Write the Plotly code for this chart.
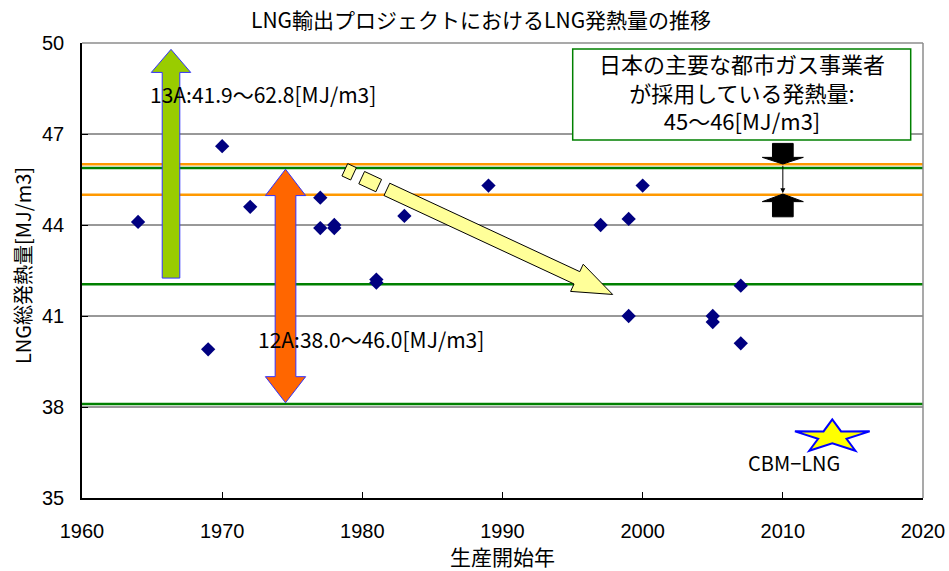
import math
import plotly.graph_objects as go

# ---------------- data ----------------
start_year = [1964, 1969, 1970, 1972, 1977, 1977, 1978, 1978, 1981, 1981,
              1983, 1989, 1997, 1999, 1999, 2000, 2005, 2005, 2007, 2007]
heat_value = [44.1, 39.9, 46.6, 44.6, 44.9, 43.9, 43.9, 44.0, 42.2, 42.1,
              44.3, 45.3, 44.0, 44.2, 41.0, 45.3, 41.0, 40.8, 42.0, 40.1]

x_ticks = [1960, 1970, 1980, 1990, 2000, 2010, 2020]
y_ticks = [35, 38, 41, 44, 47, 50]
grid_vals = [38, 41, 44, 47]
orange_lines = [46.0, 45.0]          # 日本の都市ガス 45〜46
green_lines = [45.88, 42.05, 38.1]   # 12A / 13A bounds

# ---------------- geometry helpers ----------------
W, H = 949, 571
ML, MR, MT, MB = 82, 26, 43, 73
X0, X1 = 1960, 2020
Y0, Y1 = 35, 50
PW, PH = W - ML - MR, H - MT - MB
SX = PW / (X1 - X0)   # px per year
SY = PH / (Y1 - Y0)   # px per MJ/m3


def to_px(x, y):
    return ML + (x - X0) * SX, MT + (Y1 - y) * SY


def to_data(px, py):
    return X0 + (px - ML) / SX, Y1 - (py - MT) / SY


def path(pts):
    return "M " + " L ".join(f"{x:.4f},{y:.4f}" for x, y in pts) + " Z"


def v_arrow(xc, shaft_hw, head_hw, bottom, base, tip):
    sh, hh = shaft_hw / SX, head_hw / SX
    return [(xc - sh, bottom), (xc - sh, base), (xc - hh, base), (xc, tip),
            (xc + hh, base), (xc + sh, base), (xc + sh, bottom)]


def dbl_arrow(xc, shaft_hw, head_hw, t_tip, t_base, b_base, b_tip):
    sh, hh = shaft_hw / SX, head_hw / SX
    return [(xc, t_tip), (xc + hh, t_base), (xc + sh, t_base), (xc + sh, b_base),
            (xc + hh, b_base), (xc, b_tip), (xc - hh, b_base), (xc - sh, b_base),
            (xc - sh, t_base), (xc - hh, t_base)]


shapes = []
# border (gray top/right)
shapes.append(dict(type="line", xref="paper", yref="paper", x0=0, x1=1, y0=1, y1=1,
                   line=dict(color="#8c8c8c", width=1.5), layer="above"))
shapes.append(dict(type="line", xref="paper", yref="paper", x0=1, x1=1, y0=0, y1=1,
                   line=dict(color="#8c8c8c", width=1.5), layer="above"))
# gridlines
for g in grid_vals:
    shapes.append(dict(type="line", xref="paper", yref="y", x0=0, x1=1, y0=g, y1=g,
                       line=dict(color="#333333", width=1), layer="below"))

# 13A green up arrow
shapes.append(dict(type="path", xref="x", yref="y", layer="below",
                   path=path(v_arrow(1966.35, 8.8, 19.7, 42.25, 49.03, 49.79)),
                   fillcolor="#99CC00", line=dict(color="#3333FF", width=1)))
# 12A orange double arrow
shapes.append(dict(type="path", xref="x", yref="y", layer="below",
                   path=path(dbl_arrow(1974.52, 10.35, 20.15, 45.84, 44.97, 39.0, 38.14)),
                   fillcolor="#FF6600", line=dict(color="#3333FF", width=1)))

# horizontal reference lines
for v in green_lines:
    shapes.append(dict(type="line", xref="paper", yref="y", x0=0, x1=1, y0=v, y1=v,
                       line=dict(color="#008000", width=2.5), layer="below"))
for v in orange_lines:
    shapes.append(dict(type="line", xref="paper", yref="y", x0=0, x1=1, y0=v, y1=v,
                       line=dict(color="#FF9900", width=2.5), layer="below"))

# yellow tilted arrow (dashed start)
sx_, sy_ = to_px(1978.75, 45.82)
ex_, ey_ = to_px(1997.86, 41.71)
L_ = math.hypot(ex_ - sx_, ey_ - sy_)
ux, uy = (ex_ - sx_) / L_, (ey_ - sy_) / L_
nx, ny = -uy, ux


def at(s, w):
    return to_data(sx_ + ux * s + nx * w, sy_ + uy * s + ny * w)


half = 6.8
for a, b in [(0, 9.6), (18.6, 37.4)]:
    pts = [at(a, -half), at(b, -half), at(b, half), at(a, half)]
    shapes.append(dict(type="path", xref="x", yref="y", layer="above", path=path(pts),
                       fillcolor="#FFFF99", line=dict(color="black", width=1)))
hb, tipd, hw = 256.0, L_, 15.0
pts = [at(46.4, -half), at(hb, -half), at(hb, -hw), at(tipd, 0),
       at(hb, hw), at(hb, half), at(46.4, half)]
shapes.append(dict(type="path", xref="x", yref="y", layer="above", path=path(pts),
                   fillcolor="#FFFF99", line=dict(color="black", width=1)))

# black block arrows at 2010
shapes.append(dict(type="path", xref="x", yref="y", layer="above",
                   path=path(v_arrow(2010.0, 10.35, 20.5, 46.69, 46.23, 46.01)),
                   fillcolor="black", line=dict(color="black", width=1)))
shapes.append(dict(type="path", xref="x", yref="y", layer="above",
                   path=path(v_arrow(2010.0, 10.35, 20.5, 44.27, 44.77, 45.02)),
                   fillcolor="black", line=dict(color="black", width=1)))

# text box
bx0, by0 = to_data(572.7, 49)
bx1, by1 = to_data(910.7, 140)
shapes.append(dict(type="rect", xref="x", yref="y", x0=bx0, x1=bx1, y0=by1, y1=by0,
                   fillcolor="white", line=dict(color="#008000", width=1.5), layer="above"))

# star (CBM-LNG)
scx, scy = to_px(2013.53, 37.02)
rx, ry, inner = 39.3, 17.36, 0.38
star = []
for i in range(10):
    ang = math.pi / 2 + i * math.pi / 5
    r = 1.0 if i % 2 == 0 else inner
    star.append(to_data(scx + r * rx * math.cos(ang), scy - r * ry * math.sin(ang)))
shapes.append(dict(type="path", xref="x", yref="y", layer="above", path=path(star),
                   fillcolor="#FFFF00", line=dict(color="#0000FF", width=2)))

JP = "Noto Sans CJK JP"
annotations = []
# title
annotations.append(dict(text="LNG輸出プロジェクトにおけるLNG発熱量の推移", xref="paper", yref="paper",
                        x=(481 - ML) / PW, y=(H - MB - 19) / PH, xanchor="center", yanchor="middle",
                        showarrow=False, font=dict(family=JP, size=21, color="black")))
# axis titles
annotations.append(dict(text="LNG総発熱量[MJ/m3]", xref="paper", yref="paper",
                        x=(22 - ML) / PW, y=(H - MB - 266) / PH, xanchor="center", yanchor="middle",
                        textangle=-90, showarrow=False, font=dict(family=JP, size=20, color="black")))
annotations.append(dict(text="生産開始年", xref="paper", yref="paper",
                        x=(502 - ML) / PW, y=(H - MB - 556) / PH, xanchor="center", yanchor="middle",
                        showarrow=False, font=dict(family=JP, size=21, color="black")))
# in-plot labels
tx, ty = to_data(148.3, 94.3)
annotations.append(dict(text="13A:41.9〜62.8[MJ/m3]", x=tx, y=ty, xanchor="left", yanchor="middle",
                        showarrow=False, font=dict(family=JP, size=21, color="black")))
tx, ty = to_data(256, 339.3)
annotations.append(dict(text="12A:38.0〜46.0[MJ/m3]", x=tx, y=ty, xanchor="left", yanchor="middle",
                        showarrow=False, font=dict(family=JP, size=21, color="black")))
tx, ty = to_data(794.2, 462.3)
annotations.append(dict(text="CBM−LNG", x=tx, y=ty, xanchor="center", yanchor="middle",
                        showarrow=False, font=dict(family=JP, size=20, color="black")))
box_lines = ["日本の主要な都市ガス事業者", "が採用している発熱量:", "45〜46[MJ/m3]"]
tx, ty = to_data(741.7, 91)
annotations.append(dict(text="<br>".join(box_lines), x=tx, y=ty, xanchor="center", yanchor="middle",
                        align="center", showarrow=False,
                        font=dict(family=JP, size=22, color="black")))
# thin connector arrow between black arrows
annotations.append(dict(x=2010.0, y=45.05, ax=2010.0, ay=46.0, axref="x", ayref="y",
                        xref="x", yref="y", text="", showarrow=True, arrowhead=2,
                        arrowsize=1, arrowwidth=1, arrowcolor="black"))

fig = go.Figure()
fig.add_trace(go.Scatter(x=start_year, y=heat_value, mode="markers",
                         marker=dict(symbol="diamond", size=11, color="#000080",
                                     line=dict(width=0)),
                         hoverinfo="x+y", showlegend=False))

fig.update_layout(
    width=W, height=H,
    margin=dict(l=ML, r=MR, t=MT, b=MB, autoexpand=False),
    paper_bgcolor="white", plot_bgcolor="white",
    showlegend=False,
    shapes=shapes, annotations=annotations,
    xaxis=dict(range=[X0, X1], tickvals=x_ticks, ticktext=[str(v) for v in x_ticks],
               ticks="inside", ticklen=6, tickcolor="black", showline=True,
               linecolor="black", linewidth=1.5, showgrid=False, zeroline=False,
               tickfont=dict(family="Liberation Sans, Arial", size=20, color="black"),
               ticklabelstandoff=14, fixedrange=True, automargin=False),
    yaxis=dict(range=[Y0, Y1], tickvals=y_ticks, ticktext=[str(v) for v in y_ticks],
               ticks="inside", ticklen=6, tickcolor="black", showline=True,
               linecolor="black", linewidth=1.5, showgrid=False, zeroline=False,
               tickfont=dict(family="Liberation Sans, Arial", size=20, color="black"),
               ticklabelstandoff=12, fixedrange=True, automargin=False),
)

fig.write_html("out.html", config={"displayModeBar": False},
               post_script="document.body.style.margin='0';document.body.style.padding='0';"
                           "document.body.style.overflow='hidden';")
